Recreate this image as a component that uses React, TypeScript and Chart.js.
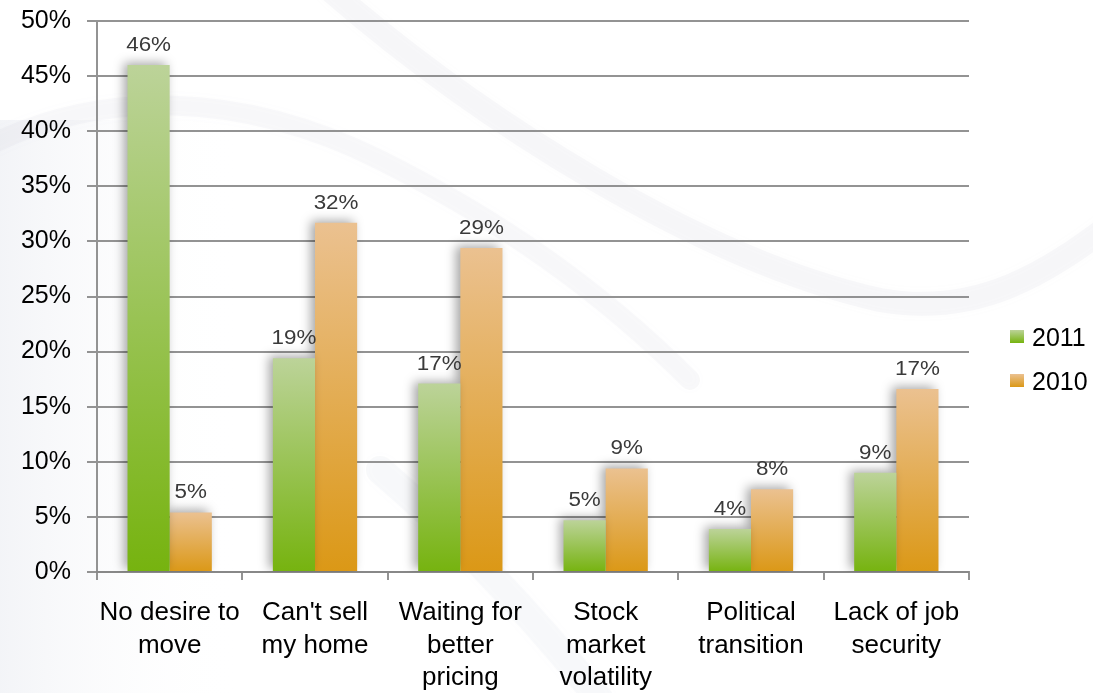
import React, { useEffect, useRef } from "react";
import { Chart, registerables } from "chart.js";

Chart.register(...registerables);

// ---- data ----
const categories: string[][] = [
  ["No desire to", "move"],
  ["Can't sell", "my home"],
  ["Waiting for", "better", "pricing"],
  ["Stock", "market", "volatility"],
  ["Political", "transition"],
  ["Lack of job", "security"],
];
const seriesNames = ["2011", "2010"];
const values2011 = [46.0, 19.4, 17.1, 4.7, 3.9, 9.0];
const values2010 = [5.4, 31.7, 29.4, 9.4, 7.5, 16.6];
const yMin = 0;
const yMax = 50;
const yStep = 5;

const FONT = "'Liberation Sans', Arial, Helvetica, sans-serif";
const GREEN_TOP = "#bcd399";
const GREEN_BOTTOM = "#76b30f";
const ORANGE_TOP = "#ebc190";
const ORANGE_BOTTOM = "#db9816";
const GRID = "rgba(135,135,135,0.9)";

function gradientFor(top: string, bottom: string, fallback: string) {
  return (ctx: any) => {
    const chart = ctx.chart;
    const area = chart.chartArea;
    if (!area || ctx.type !== "data" || !chart.scales.y) return fallback;
    const ys = chart.scales.y;
    const t = ys.getPixelForValue(ctx.raw);
    const b = ys.getPixelForValue(0);
    if (!isFinite(t) || !isFinite(b) || t === b) return fallback;
    const g = chart.ctx.createLinearGradient(0, t, 0, b);
    g.addColorStop(0, top);
    g.addColorStop(1, bottom);
    return g;
  };
}

const backgroundPlugin = {
  id: "bgSwoosh",
  beforeDraw(chart: any) {
    const { ctx, width, height } = chart;
    ctx.save();
    ctx.fillStyle = "#ffffff";
    ctx.fillRect(0, 0, width, height);
    const lg = ctx.createLinearGradient(0, 0, 240, 0);
    lg.addColorStop(0, "rgba(228,231,238,0.45)");
    lg.addColorStop(1, "rgba(255,255,255,0)");
    ctx.fillStyle = lg;
    ctx.fillRect(0, 120, 240, height - 120);
    ctx.lineCap = "round";
    ctx.shadowColor = "rgba(170,175,190,0.25)";
    ctx.shadowBlur = 12;
    ctx.strokeStyle = "rgba(175,180,195,0.09)";
    ctx.lineWidth = 24;
    ctx.beginPath();
    ctx.moveTo(330, -10);
    ctx.bezierCurveTo(480, 120, 700, 260, 880, 300);
    ctx.bezierCurveTo(980, 318, 1050, 270, 1110, 225);
    ctx.stroke();
    ctx.lineWidth = 20;
    ctx.strokeStyle = "rgba(175,180,195,0.08)";
    ctx.beginPath();
    ctx.moveTo(-10, 145);
    ctx.bezierCurveTo(100, 90, 240, 90, 380, 160);
    ctx.bezierCurveTo(500, 220, 600, 290, 690, 380);
    ctx.stroke();
    ctx.lineWidth = 28;
    ctx.strokeStyle = "rgba(175,180,195,0.07)";
    ctx.beginPath();
    ctx.moveTo(380, 470);
    ctx.bezierCurveTo(450, 530, 520, 600, 600, 700);
    ctx.stroke();
    ctx.restore();
  },
};

const shadowPlugin = {
  id: "barShadow",
  beforeDatasetDraw(chart: any) {
    const ctx = chart.ctx;
    ctx.save();
    ctx.shadowColor = "rgba(0,0,0,0.35)";
    ctx.shadowBlur = 10;
    ctx.shadowOffsetX = -4;
    ctx.shadowOffsetY = -2;
  },
  afterDatasetDraw(chart: any) {
    chart.ctx.restore();
  },
};

const labelPlugin = {
  id: "valueLabels",
  afterDatasetsDraw(chart: any) {
    const ctx = chart.ctx;
    ctx.save();
    ctx.font = `20px ${FONT}`;
    ctx.fillStyle = "#3a3a3a";
    ctx.textAlign = "center";
    ctx.textBaseline = "alphabetic";
    chart.data.datasets.forEach((ds: any, di: number) => {
      const meta = chart.getDatasetMeta(di);
      meta.data.forEach((bar: any, i: number) => {
        const v = ds.data[i];
        const txt = Math.round(v) + "%";
        ctx.save();
        ctx.translate(bar.x, bar.y - 14);
        ctx.scale(1.12, 1);
        ctx.fillText(txt, 0, 0);
        ctx.restore();
      });
    });
    ctx.restore();
  },
};

const legendPlugin = {
  id: "sideLegend",
  afterDraw(chart: any) {
    const ctx = chart.ctx;
    const area = chart.chartArea;
    const colors = [
      [GREEN_TOP, GREEN_BOTTOM],
      [ORANGE_TOP, ORANGE_BOTTOM],
    ];
    const x = area.right + 41;
    const y0 = 338;
    const pitch = 44;
    ctx.save();
    ctx.font = `25px ${FONT}`;
    ctx.textAlign = "left";
    ctx.textBaseline = "middle";
    chart.data.datasets.forEach((ds: any, i: number) => {
      const cy = y0 + i * pitch;
      const g = ctx.createLinearGradient(0, cy - 8, 0, cy + 5);
      g.addColorStop(0, colors[i][0]);
      g.addColorStop(1, colors[i][1]);
      ctx.fillStyle = g;
      ctx.fillRect(x, cy - 8, 14, 13);
      ctx.fillStyle = "#000";
      ctx.fillText(ds.label, x + 22, cy + 1);
    });
    ctx.restore();
  },
};

export default function App() {
  const ref = useRef<HTMLCanvasElement | null>(null);
  useEffect(() => {
    if (!ref.current) return;
    const chart = new Chart(ref.current, {
      type: "bar",
      data: {
        labels: categories,
        datasets: [
          {
            label: seriesNames[0],
            data: values2011,
            backgroundColor: gradientFor(GREEN_TOP, GREEN_BOTTOM, "#8dbf45"),
            borderWidth: 0,
            categoryPercentage: 0.58,
            barPercentage: 1.0,
          },
          {
            label: seriesNames[1],
            data: values2010,
            backgroundColor: gradientFor(ORANGE_TOP, ORANGE_BOTTOM, "#e2aa55"),
            borderWidth: 0,
            categoryPercentage: 0.58,
            barPercentage: 1.0,
          },
        ],
      },
      options: {
        animation: false,
        responsive: false,
        maintainAspectRatio: false,
        devicePixelRatio: 1,
        layout: { padding: { top: 21, right: 124, left: 0, bottom: 0 } },
        plugins: {
          legend: { display: false },
          tooltip: { enabled: false },
          title: { display: false },
        },
        scales: {
          x: {
            offset: true,
            grid: {
              display: true,
              offset: true,
              drawOnChartArea: false,
              drawTicks: true,
              tickLength: 8,
              color: GRID,
              lineWidth: 2,
            },
            border: { display: true, color: GRID, width: 2 },
            ticks: {
              color: "#000",
              font: { family: FONT, size: 26, lineHeight: 1.25 },
              padding: 17,
              maxRotation: 0,
              minRotation: 0,
              autoSkip: false,
            },
            afterFit: (s: any) => {
              s.height = 121;
            },
          },
          y: {
            min: yMin,
            max: yMax,
            grid: {
              color: GRID,
              lineWidth: 2,
              drawTicks: true,
              tickLength: 10,
            },
            border: { display: true, color: GRID, width: 2 },
            ticks: {
              stepSize: yStep,
              color: "#000",
              font: { family: FONT, size: 25 },
              padding: 16,
              callback: (v: any) => v + "%",
            },
            afterFit: (s: any) => {
              s.width = 97;
              s.paddingTop = 0;
              s.paddingBottom = 0;
            },
          },
        },
      },
      plugins: [backgroundPlugin, shadowPlugin, labelPlugin, legendPlugin],
    });
    return () => chart.destroy();
  }, []);
  return (
    <div style={{ position: "absolute", left: 0, top: 0, width: 1093, height: 693 }}>
      <canvas ref={ref} width={1093} height={693} style={{ width: 1093, height: 693, display: "block" }} />
    </div>
  );
}
